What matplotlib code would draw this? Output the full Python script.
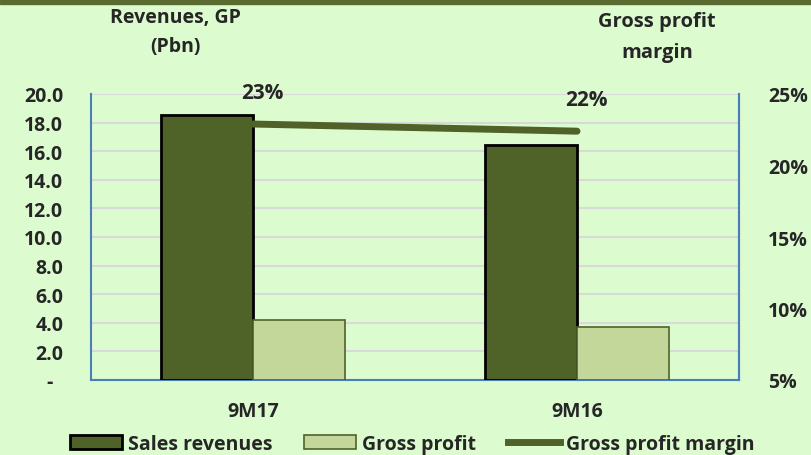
import matplotlib
matplotlib.use("Agg")
import matplotlib.pyplot as plt
from matplotlib.patches import Rectangle, Patch
from matplotlib.lines import Line2D
import numpy as np

categories = ["9M17", "9M16"]
sales_revenues = [18.5, 16.4]
gross_profit = [4.2, 3.7]
gross_margin = [22.9, 22.4]  # percent

left_ticks = [0, 2, 4, 6, 8, 10, 12, 14, 16, 18, 20]
left_labels = ["-  "] + [f"{v:.1f}" for v in left_ticks[1:]]
right_ticks = [5, 10, 15, 20, 25]

plt.rcParams['font.family'] = ['Open Sans', 'DejaVu Sans']
plt.rcParams['font.weight'] = 'bold'

bg = "#dcfcd0"
dark = "#4f6228"
light = "#c4d79b"
spine_c = "#4a7ebb"
txt = "#262626"
fs = 14

fig = plt.figure(figsize=(8.11, 4.56), dpi=100, facecolor=bg)
ax = fig.add_axes([91/811, 1-381/456, (739-91)/811, (381-95)/456])
ax.set_facecolor(bg)

x = np.arange(len(categories))
w = 0.285
ax.bar(x - w/2, sales_revenues, w, color=dark, edgecolor="black", linewidth=2, zorder=3)
ax.bar(x + w/2, gross_profit, w, color=light, edgecolor=dark, linewidth=1.2, zorder=3)
ax.set_xlim(-0.5, 1.5)
ax.set_ylim(0, 20)
ax.set_yticks(left_ticks)
ax.set_yticklabels(left_labels)
ax.set_xticks([])
ax.grid(axis="y", color="#d9d9d9", linewidth=1.5, zorder=0)
ax.tick_params(axis="y", length=0, pad=20, labelsize=fs, labelcolor=txt)
ax.spines["top"].set_visible(False)
for s in ["left", "bottom", "right"]:
    ax.spines[s].set_color(spine_c)
    ax.spines[s].set_linewidth(1.5)

ax2 = ax.twinx()
ax2.set_ylim(5, 25)
ax2.set_yticks(right_ticks)
ax2.set_yticklabels([f"{v}%" for v in right_ticks])
ax2.tick_params(axis="y", length=0, pad=21, labelsize=fs, labelcolor=txt)
for s in ["top", "left", "bottom"]:
    ax2.spines[s].set_visible(False)
ax2.spines["right"].set_color(spine_c)
ax2.spines["right"].set_linewidth(1.5)
ax2.plot(x, gross_margin, color=dark, linewidth=5, solid_capstyle="round", zorder=4)
for xi, m in zip(x, gross_margin):
    ax2.annotate(f"{m:.0f}%", (xi, m), xytext=(7, 15), textcoords="offset points",
                 ha="center", va="bottom", fontsize=15, color=txt)

for xi, c in zip(x, categories):
    ax.text(xi, -0.11, c, transform=ax.get_xaxis_transform(), ha="center", va="center",
            fontsize=fs, color=txt)

fig.text(175/811, 1-18/456, "Revenues, GP", ha="center", va="center", fontsize=fs, color=txt)
fig.text(175/811, 1-47/456, "(Pbn)", ha="center", va="center", fontsize=fs, color=txt)
fig.text(657/811, 1-22/456, "Gross profit", ha="center", va="center", fontsize=14.5, color=txt)
fig.text(657/811, 1-53/456, "margin", ha="center", va="center", fontsize=14.5, color=txt)

# dark strip across the top edge
fig.add_artist(Rectangle((0, 1-5/456), 1, 5/456, transform=fig.transFigure,
                         color="#5a6b2f", zorder=10))

handles = [Patch(facecolor=dark, edgecolor="black", linewidth=2),
           Patch(facecolor=light, edgecolor=dark, linewidth=1.2),
           Line2D([0], [0], color=dark, linewidth=5)]
leg = fig.legend(handles, ["Sales revenues", "Gross profit", "Gross profit margin"],
                 loc="center", bbox_to_anchor=(412/811, 1-445/456), ncol=3,
                 frameon=False, handlelength=2.67, handleheight=0.72, columnspacing=1.65,
                 handletextpad=0.3, borderpad=0.2, prop={"size": fs, "weight": "bold"})
for t in leg.get_texts():
    t.set_color(txt)

fig.savefig("out.png", dpi=100, facecolor=bg)
